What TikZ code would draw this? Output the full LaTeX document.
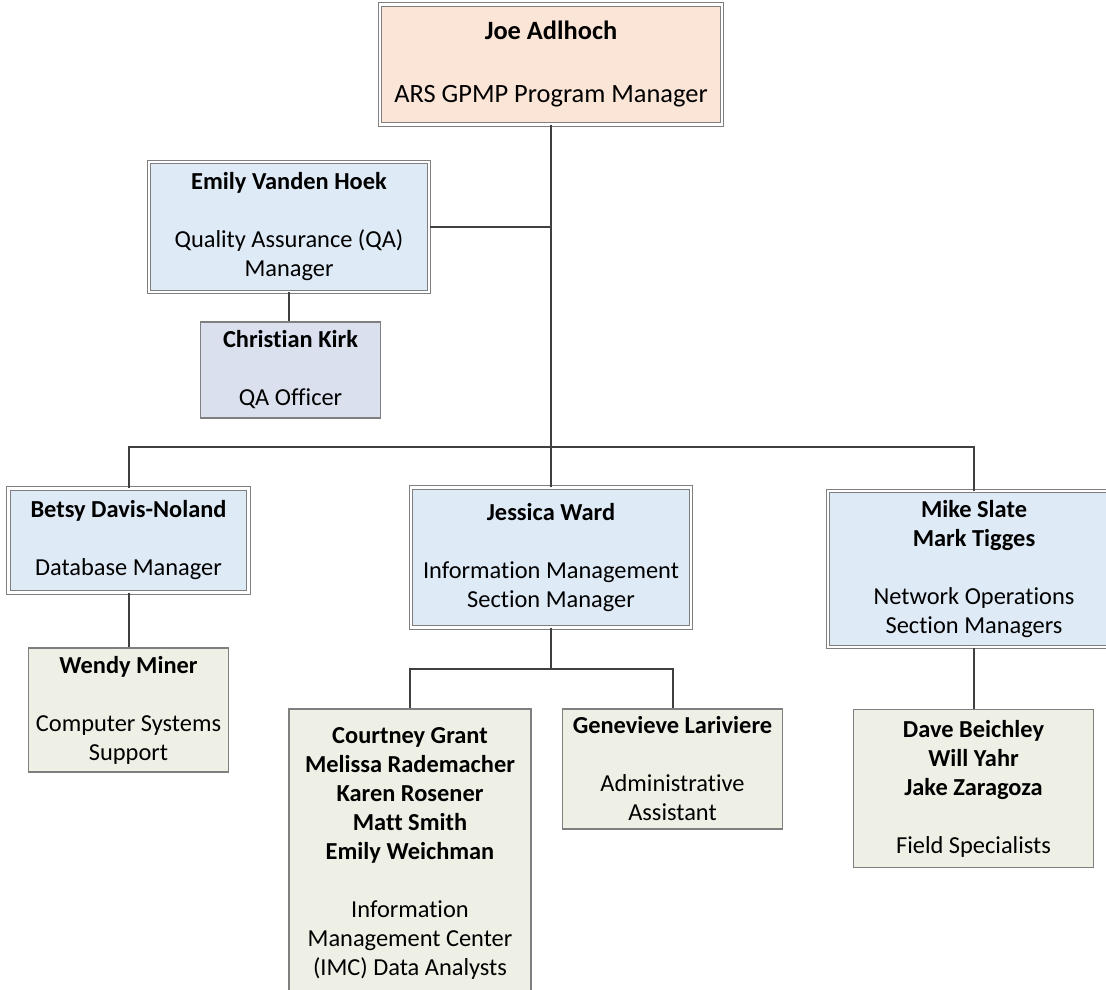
\documentclass[tikz,border=0pt]{standalone}
\usepackage{fontspec}
\setmainfont{Carlito}[Ligatures={NoCommon,NoRare}]
\usetikzlibrary{calc}
\definecolor[named]{HeadFill}{HTML}{FBE5D6}
\definecolor[named]{MgrFill}{HTML}{DEEAF6}
\definecolor[named]{QAFill}{HTML}{DAE0EE}
\definecolor[named]{StaffFill}{HTML}{EEF0E6}
\definecolor[named]{EdgeGray}{HTML}{7F7F7F}
\definecolor[named]{LinkGray}{HTML}{404040}
\newcommand{\who}[1]{\textbf{#1}}
\tikzset{
  orgbox/.style={rectangle,inner sep=0pt,align=center,
    font=\fontsize{12.2}{14.5}\selectfont},
  mgrbox/.style={orgbox,draw=EdgeGray,line width=0.5pt,double=white,
    double distance=1.1pt,fill=MgrFill},
  staffbox/.style={orgbox,draw=EdgeGray,line width=0.6pt,fill=StaffFill},
  link/.style={draw=LinkGray,line width=1pt}
}

\begin{document}
\begin{tikzpicture}[x=0.5pt,y=-0.5pt]
  \useasboundingbox (0,0) rectangle (1106,989);
  % top of the tree
  \node[mgrbox,fill=HeadFill,minimum width=171pt,minimum height=60pt,
    font=\fontsize{13.2}{15.75}\selectfont] (joe) at (551,64.5)
    {\who{Joe Adlhoch}\\~\\ARS GPMP Program Manager};
  \node[mgrbox,minimum width=140pt,minimum height=65pt] (emily) at (289,227)
    {\who{Emily Vanden Hoek}\\~\\Quality Assurance (QA)\\Manager};
  \node[staffbox,fill=QAFill,minimum width=90pt,minimum height=48pt] (christian) at (290.5,370)
    {\who{Christian Kirk}\\~\\QA Officer};
  % section managers
  \node[mgrbox,minimum width=120pt,minimum height=52pt] (betsy) at (128.5,540.5)
    {\who{Betsy Davis-Noland}\\~\\Database Manager};
  \node[mgrbox,minimum width=140pt,minimum height=70pt] (jessica) at (551,557.5)
    {\who{Jessica Ward}\\~\\Information Management\\Section Manager};
  \node[mgrbox,minimum width=146pt,minimum height=78pt] (mike) at (974,569)
    {\who{Mike Slate}\\\who{Mark Tigges}\\~\\Network Operations\\Section Managers};
  % staff
  \node[staffbox,minimum width=100pt,minimum height=62pt] (wendy) at (128.5,710)
    {\who{Wendy Miner}\\~\\Computer Systems\\Support};
  \node[staffbox,minimum width=121pt,minimum height=144pt] (courtney) at (410,853)
    {\who{Courtney Grant}\\\who{Melissa Rademacher}\\\who{Karen Rosener}\\
     \who{Matt Smith}\\\who{Emily Weichman}\\~\\Information\\
     Management Center\\(IMC) Data Analysts};
  \node[staffbox,minimum width=110pt,minimum height=60pt] (genevieve) at (672.5,769)
    {\who{Genevieve Lariviere}\\~\\Administrative\\Assistant};
  \node[staffbox,minimum width=120pt,minimum height=79pt] (dave) at (973.5,788.5)
    {\who{Dave Beichley}\\\who{Will Yahr}\\\who{Jake Zaragoza}\\~\\Field Specialists};

  \coordinate (busL) at (betsy.north |- 0,447);
  \coordinate (busR) at (mike.north |- 0,447);
  \coordinate (subL) at (courtney.north |- 0,669);
  \coordinate (subR) at (genevieve.north |- 0,669);

  \draw[link] (joe.south) -- (jessica.north);
  \draw[link] (emily.east) -- (emily.east -| joe.south);
  \draw[link] (emily.south) -- (emily.south |- christian.north);
  \draw[link] (betsy.north) -- (busL) -- (busR) -- (mike.north);
  \draw[link] (betsy.south) -- (wendy.north);
  \draw[link] (mike.south) -- (mike.south |- dave.north);
  \draw[link] (jessica.south) -- (jessica.south |- subL);
  \draw[link] (courtney.north) -- (subL) -- (subR) -- (genevieve.north);
\end{tikzpicture}
\end{document}
